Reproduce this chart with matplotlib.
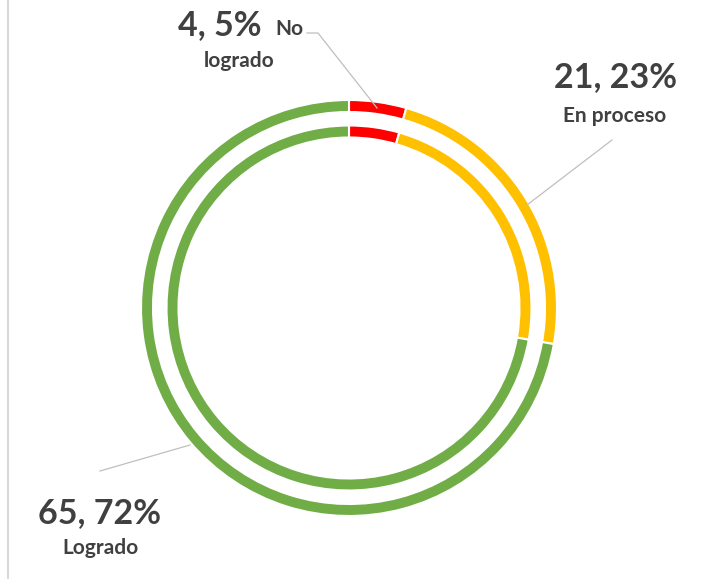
import matplotlib
matplotlib.use("Agg")
import matplotlib.pyplot as plt
from matplotlib.lines import Line2D

categories = ["No logrado", "En proceso", "Logrado"]
outer_values = [4, 21, 65]
inner_values = [4, 21, 65]
percent_labels = ["5%", "23%", "72%"]
colors = ["#FF0000", "#FFC000", "#70AD47"]

W, H = 718, 579
fig = plt.figure(figsize=(W / 100, H / 100), dpi=100)
ax = fig.add_axes([0, 0, 1, 1])

cx, cy = 349, H - 308
ax.pie(outer_values, colors=colors, startangle=90, counterclock=False,
       center=(cx, cy), radius=208,
       wedgeprops=dict(width=12, edgecolor="white", linewidth=1.5))
ax.pie(inner_values, colors=colors, startangle=90, counterclock=False,
       center=(cx, cy), radius=182.5,
       wedgeprops=dict(width=12, edgecolor="white", linewidth=1.5))

ax.set_xlim(0, W)
ax.set_ylim(0, H)
ax.set_aspect("auto")
ax.axis("off")

tc = "#404040"
lc = "#BFBFBF"
fam = ["Lato", "DejaVu Sans"]
big = 24.5
small = 15

def Y(y):
    return H - y

# Leader lines
ax.add_line(Line2D([307, 318, 377], [Y(33), Y(33), Y(108)], color=lc, lw=0.9))
ax.add_line(Line2D([612, 527], [Y(140), Y(205)], color=lc, lw=0.9))
ax.add_line(Line2D([100, 190], [Y(471), Y(445)], color=lc, lw=0.9))

# No logrado label
ax.text(178, Y(35), f"{outer_values[0]}, {percent_labels[0]}", fontsize=big,
        fontweight="bold", color=tc, family=fam, ha="left", va="baseline")
ax.text(275, Y(35), categories[0].split()[0], fontsize=small,
        fontweight="bold", color=tc, family=fam, ha="left", va="baseline")
ax.text(239, Y(67), categories[0].split()[1], fontsize=small,
        fontweight="bold", color=tc, family=fam, ha="center", va="baseline")

# En proceso label
ax.text(615, Y(87), f"{outer_values[1]}, {percent_labels[1]}", fontsize=big,
        fontweight="bold", color=tc, family=fam, ha="center", va="baseline")
ax.text(615, Y(122), categories[1], fontsize=small,
        fontweight="bold", color=tc, family=fam, ha="center", va="baseline")

# Logrado label
ax.text(100, Y(523), f"{outer_values[2]}, {percent_labels[2]}", fontsize=big,
        fontweight="bold", color=tc, family=fam, ha="center", va="baseline")
ax.text(100.5, Y(554), categories[2], fontsize=small,
        fontweight="bold", color=tc, family=fam, ha="center", va="baseline")

# left border
ax.add_line(Line2D([8, 8], [0, H], color="#D9D9D9", lw=1.5))

fig.savefig("out.png", dpi=100)
